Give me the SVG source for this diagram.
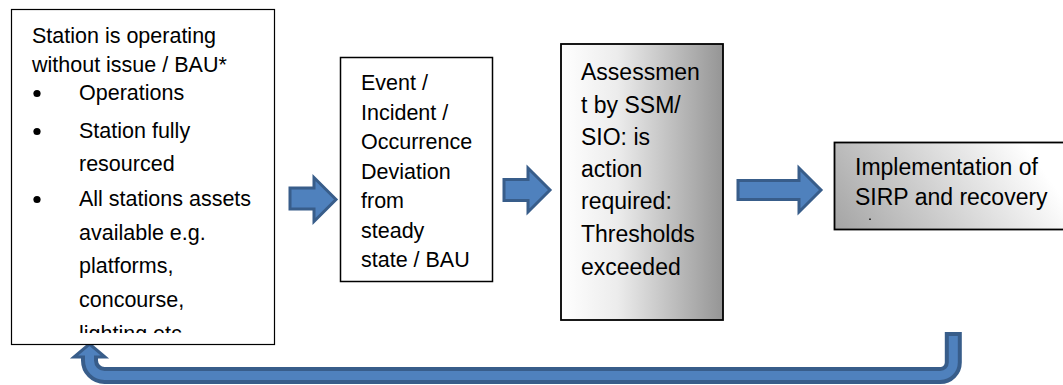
<svg xmlns="http://www.w3.org/2000/svg" width="1063" height="385" viewBox="0 0 1063 385">
<style>
.box{stroke:#000;fill:#fff}
.t{font-family:"Liberation Sans",Arial,sans-serif;fill:#000}
.t1{font-size:21.5px}
.t3{font-size:23px}
.arr{fill:#4f81bd;stroke:#385d8a;stroke-width:3;stroke-linejoin:miter}
</style>
<defs>
<linearGradient id="g3" x1="0" y1="0" x2="1" y2="0">
<stop offset="0" stop-color="#ffffff"/>
<stop offset="0.35" stop-color="#ececec"/>
<stop offset="1" stop-color="#959595"/>
</linearGradient>
<linearGradient id="g4" gradientUnits="userSpaceOnUse" x1="834" y1="229" x2="1000" y2="110">
<stop offset="0" stop-color="#a4a4a4"/>
<stop offset="1" stop-color="#ffffff"/>
</linearGradient>
<clipPath id="c1"><rect x="11" y="9" width="263" height="324"/></clipPath>
</defs>
<rect width="1063" height="385" fill="#fff"/>

<g id="connectors">
<polygon class="arr" points="290,188 314,188 314,177.5 336,199.5 314,221.5 314,209 290,209"/>
<polygon class="arr" points="504,179.5 528,179.5 528,168 550,190 528,212 528,200.5 504,200.5"/>
<polygon class="arr" points="738,180.5 799,180.5 799,168 821,190 799,212 799,199.5 738,199.5"/>
<g id="return-arrow">
<path d="M953.3 332 V362.5 A13 13 0 0 1 940.3 375.5 H104.5 A15 15 0 0 1 89.5 360.5 V357" fill="none" stroke="#385d8a" stroke-width="17"/>
<polygon points="89.5,344 105,357 74,357" fill="#4f81bd" stroke="#385d8a" stroke-width="3"/>
<path d="M953.3 336 V362.5 A13 13 0 0 1 940.3 375.5 H104.5 A15 15 0 0 1 89.5 360.5 V355" fill="none" stroke="#4f81bd" stroke-width="9"/>
</g>
</g>

<g id="node-bau">
<rect class="box" x="11.5" y="9.5" width="263" height="335" stroke-width="1.2"/>
<g clip-path="url(#c1)" class="t t1">
<text x="32" y="43">Station is operating</text>
<text x="32" y="71.5">without issue / BAU*</text>
<text x="79" y="100">Operations</text>
<text x="79" y="137.5">Station fully</text>
<text x="79" y="171">resourced</text>
<text x="79" y="205.5">All stations assets</text>
<text x="79" y="239.5">available e.g.</text>
<text x="79" y="273">platforms,</text>
<text x="79" y="307">concourse,</text>
<text x="79" y="341">lighting etc</text>
</g>
<circle cx="37" cy="93.5" r="3.6" fill="#000"/>
<circle cx="37" cy="131.5" r="3.6" fill="#000"/>
<circle cx="37" cy="199.5" r="3.6" fill="#000"/>
</g>

<g id="node-event">
<rect class="box" x="340.5" y="57.5" width="152" height="224" stroke-width="1.5"/>
<g class="t t1">
<text x="361" y="90">Event /</text>
<text x="361" y="119.5">Incident /</text>
<text x="361" y="149">Occurrence</text>
<text x="361" y="178.5">Deviation</text>
<text x="361" y="208">from</text>
<text x="361" y="237.5">steady</text>
<text x="361" y="267">state / BAU</text>
</g>
</g>

<g id="node-assessment">
<rect x="561" y="44" width="162" height="276" fill="url(#g3)" stroke="#000" stroke-width="1.8"/>
<g class="t t3">
<text x="581" y="80">Assessmen</text>
<text x="581" y="112.5">t by SSM/</text>
<text x="581" y="145">SIO: is</text>
<text x="581" y="177">action</text>
<text x="581" y="209">required:</text>
<text x="581" y="242">Thresholds</text>
<text x="581" y="275">exceeded</text>
</g>
</g>

<g id="node-sirp">
<rect x="834.5" y="142.5" width="240" height="87" fill="url(#g4)" stroke="#000" stroke-width="1.8"/>
<g class="t t3">
<text x="855" y="175">Implementation of</text>
<text x="855" y="205">SIRP and recovery</text>
</g>
<rect x="869" y="218.5" width="2" height="1.5" fill="#333"/>
</g>
</svg>
